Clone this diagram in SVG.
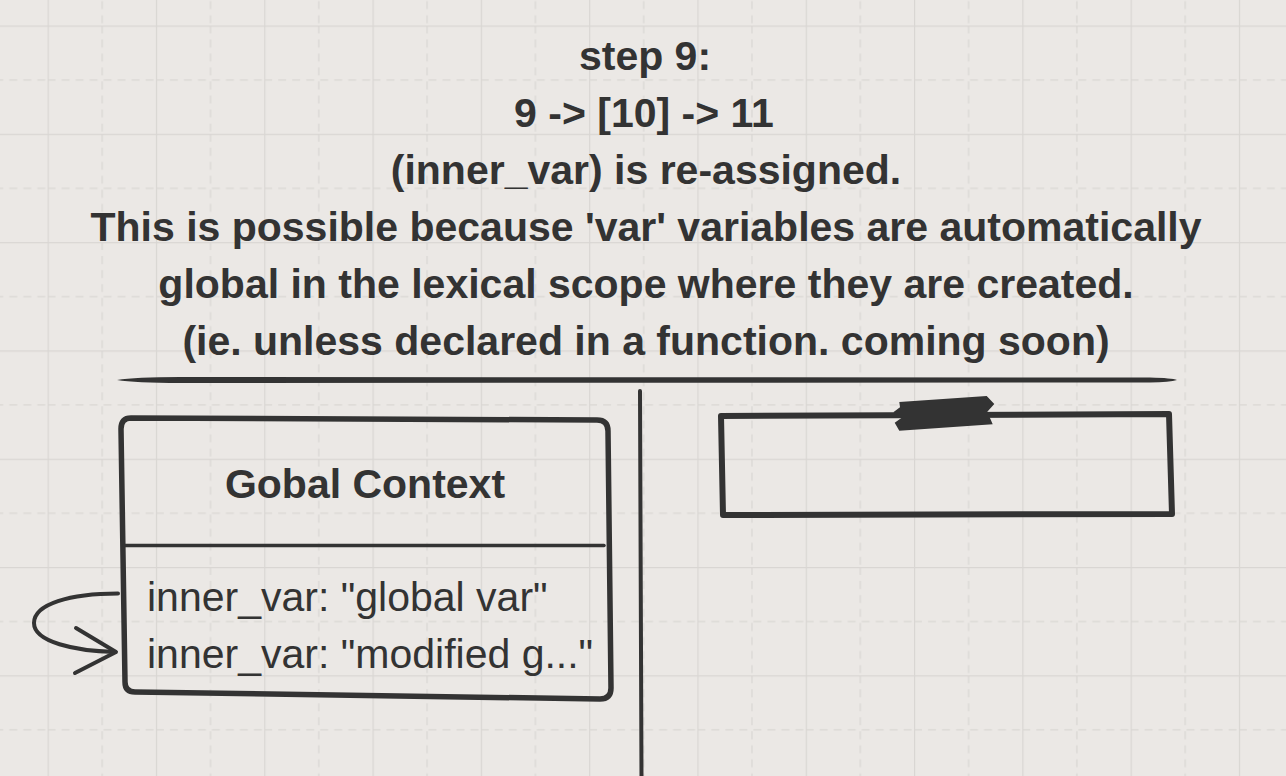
<svg xmlns="http://www.w3.org/2000/svg" width="1286" height="776" viewBox="0 0 1286 776">
  <defs>
    <pattern id="grid" patternUnits="userSpaceOnUse" x="47.6" y="25.5" width="108.3" height="108.3">
      <line x1="0.5" y1="0" x2="0.5" y2="108.3" stroke="#d9d6d3" stroke-width="1.4"/>
      <line x1="0" y1="0.5" x2="108.3" y2="0.5" stroke="#d9d6d3" stroke-width="1.4"/>
      <line x1="54.6" y1="0" x2="54.6" y2="108.3" stroke="#dad7d4" stroke-width="1.3" stroke-dasharray="8 6"/>
      <line x1="0" y1="54.6" x2="108.3" y2="54.6" stroke="#dad7d4" stroke-width="1.3" stroke-dasharray="8 6"/>
    </pattern>
    <style>
      .title { font-family: "Liberation Sans", Arial, sans-serif; font-weight: bold; font-size: 41px; fill: #333333; text-anchor: middle; }
      .head { font-family: "Liberation Sans", Arial, sans-serif; font-weight: bold; font-size: 41px; fill: #333333; text-anchor: middle; }
      .item { font-family: "Liberation Sans", Arial, sans-serif; font-size: 41px; fill: #333333; }
      .stroke { fill: none; stroke: #333333; stroke-linecap: round; stroke-linejoin: round; }
    </style>
  </defs>
  <rect x="0" y="0" width="1286" height="776" fill="#ebe8e5"/>
  <rect x="0" y="0" width="1286" height="776" fill="url(#grid)"/>

  <g id="title">
    <text class="title" x="645" y="70">step 9:</text>
    <text class="title" x="644" y="127">9 -&gt; [10] -&gt; 11</text>
    <text class="title" x="646" y="184">(inner_var) is re-assigned.</text>
    <text class="title" x="646" y="241">This is possible because 'var' variables are automatically</text>
    <text class="title" x="646" y="298">global in the lexical scope where they are created.</text>
    <text class="title" x="646" y="355">(ie. unless declared in a function. coming soon)</text>
  </g>

  <g id="separator">
    <path d="M117,380 Q135,377 180,377 L1150,377.5 Q1172,378 1177,380 Q1170,382 1150,382.5 L180,383 Q135,383 117,380 Z" fill="#333333"/>
  </g>

  <g id="divider">
    <line class="stroke" x1="640" y1="391" x2="641.5" y2="780" stroke-width="4"/>
  </g>

  <g id="global-context">
    <path class="stroke" stroke-width="5.5" d="M131,418 L597,420 Q608,420 608,431 L611,688 Q611,699 600,699 L135,692 Q125,692 125,682 L121,429 Q121,418 131,418 Z"/>
    <line class="stroke" x1="124" y1="545.5" x2="604" y2="545.5" stroke-width="3.5"/>
    <text class="head" x="365" y="498">Gobal Context</text>
    <text class="item" x="147" y="611">inner_var: "global var"</text>
    <text class="item" x="147" y="668">inner_var: "modified g..."</text>
  </g>

  <g id="empty-box">
    <path class="stroke" stroke-width="6" stroke-linecap="butt" stroke-linejoin="miter" d="M721,416 L1169,414 L1172,514 L723,515 Z"/>
    <polygon fill="#333333" points="899.3,402 986.7,396 994.3,404 987.3,411.7 992.7,424.3 899.3,430.7 894.7,422.7 901.7,417.7 893.3,412.3 900,407.3"/>
  </g>

  <g id="connectors">
    <path class="stroke" stroke-width="4" d="M118,593.5 C70,593.5 34,604 34,623 C34,642 75,651 115,652"/>
    <polyline class="stroke" stroke-width="4" points="76,628 116,652 75,673"/>
  </g>
</svg>
